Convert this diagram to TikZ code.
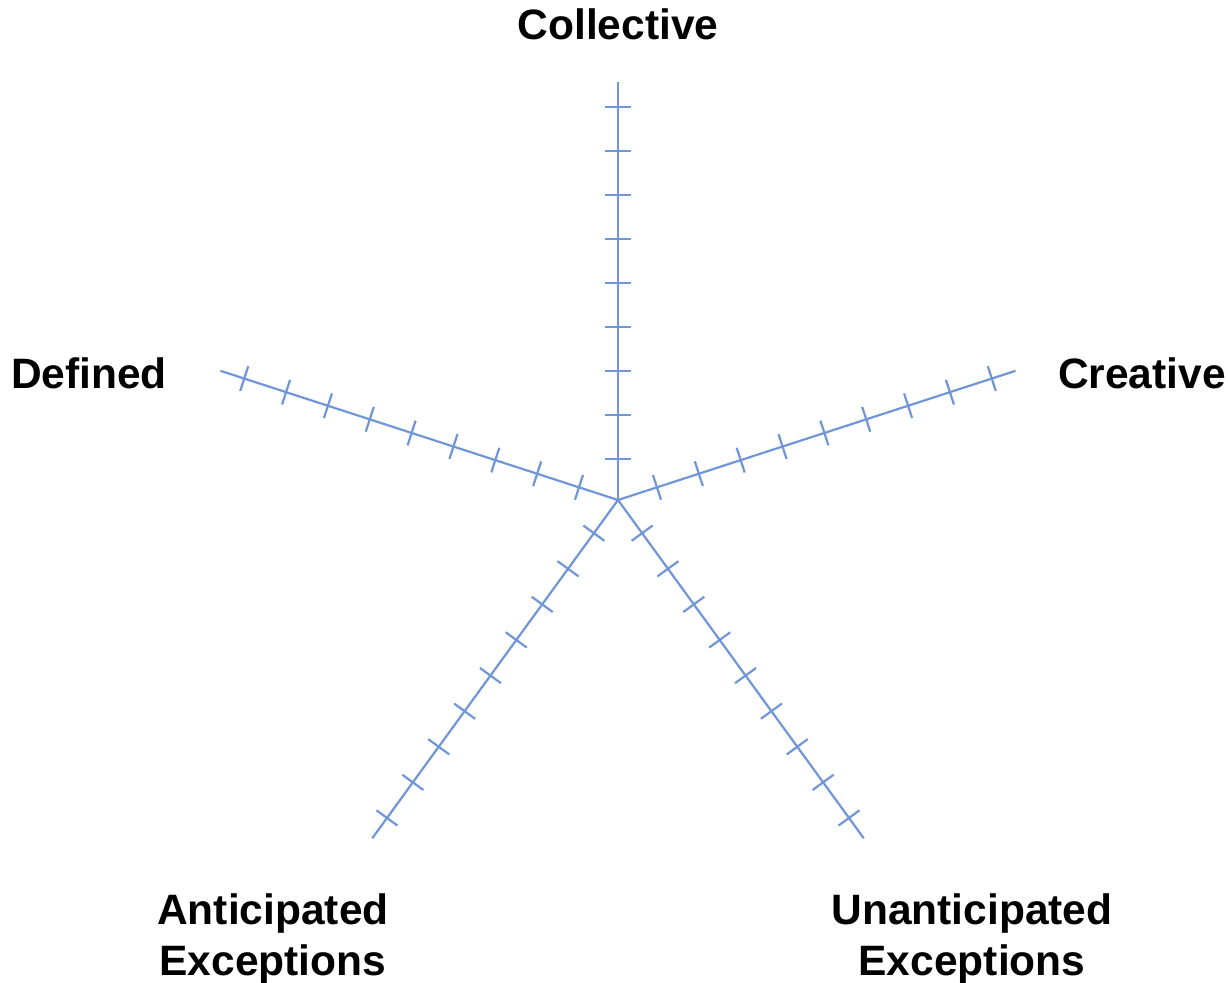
\documentclass[tikz,border=0pt]{standalone}
\usepackage{fontspec}
\setmainfont{Liberation Sans}
\usetikzlibrary{calc}
\definecolor{axisblue}{RGB}{112,150,215}
\begin{document}
\begin{tikzpicture}[x=1pt,y=-1pt,
  axis/.style={draw=axisblue,line width=2.2pt},
  lbl/.style={font=\fontsize{42.5}{51}\selectfont\bfseries,inner sep=0pt,anchor=base,align=center}]
\useasboundingbox (0,0) rectangle (1228,982);
\coordinate (c) at (618,500);
% five spokes, 72 degrees apart, with tick marks every 44pt
\foreach \name/\ang in {col/-90, cre/-18, una/54, ant/126, def/198} {
  \coordinate (\name) at ($(c)+(\ang:418)$);
  \draw[axis] (c) -- (\name);
  \foreach \k in {0,...,8} {
    \pgfmathsetmacro{\d}{41+44*\k}
    \draw[axis] ($(c)+(\ang:\d)+(\ang+90:13)$) -- ($(c)+(\ang:\d)+(\ang-90:13)$);
  }
}
% multi-line labels sit on the baseline of their last line
\node[lbl] (lcol) at (618,40) {Collective};
\node[lbl] (lcre) at (1142,388) {Creative};
\node[lbl] (ldef) at (89,388) {Defined};
\node[lbl] (lant) at (273,975) {Anticipated\\Exceptions};
\node[lbl] (luna) at (972,975) {Unanticipated\\Exceptions};
\end{tikzpicture}
\end{document}
